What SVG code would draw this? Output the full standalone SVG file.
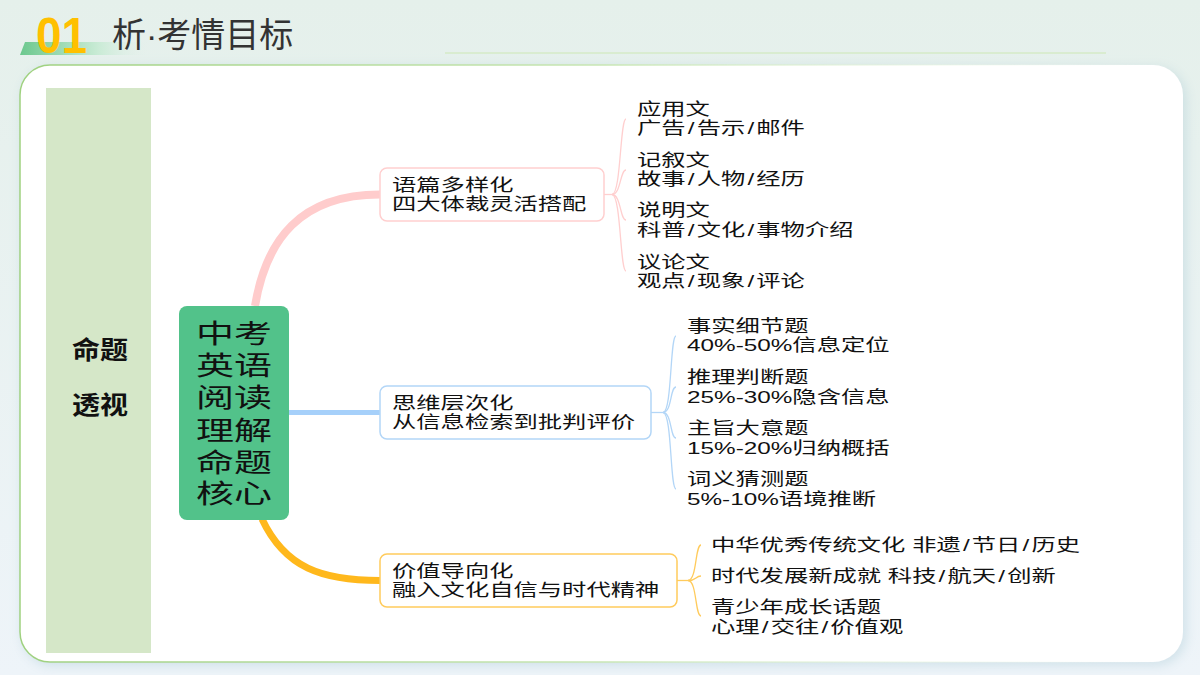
<svg xmlns="http://www.w3.org/2000/svg" width="1200" height="675" viewBox="0 0 1200 675">
<defs>
<linearGradient id="bg" x1="0" y1="0" x2="0" y2="1">
<stop offset="0" stop-color="#e5f0eb"/>
<stop offset="1" stop-color="#eef4f9"/>
</linearGradient>
<linearGradient id="cardStroke" x1="0" y1="0" x2="1" y2="0">
<stop offset="0" stop-color="#9fd17f"/>
<stop offset="0.5" stop-color="#c8e6b4"/>
<stop offset="1" stop-color="#ffffff" stop-opacity="0"/>
</linearGradient>
<linearGradient id="band" x1="0" y1="0" x2="1" y2="0">
<stop offset="0" stop-color="#6cc88e"/>
<stop offset="0.6" stop-color="#c9ebd5"/>
<stop offset="1" stop-color="#e5f0eb" stop-opacity="0"/>
</linearGradient>
<filter id="shadow" x="-5%" y="-5%" width="110%" height="115%">
<feDropShadow dx="3" dy="3" stdDeviation="6" flood-color="#a9cad6" flood-opacity="0.45"/>
</filter>
</defs>
<style>
text{font-family:"Liberation Sans","Noto Sans CJK SC",sans-serif;fill:#111}
.t text{font-size:17px}
.box{fill:#fff;stroke-width:1.5}
.brace{fill:none;stroke-width:1.3}
.pink{stroke:#ffcfcf}
.blue{stroke:#b3d6f7}
.gold{stroke:#ffcb5c}
</style>

<rect x="0" y="0" width="1200" height="675" fill="url(#bg)"/>

<g id="title">
<polygon points="25,42 150,42 146,55 20,55" fill="url(#band)"/>
<text transform="translate(36,53) scale(0.92,1)" font-size="50" font-weight="bold" style="fill:#ffc000">01</text>
<text x="112" y="47" font-size="34" style="fill:#333">析·考情目标</text>
<line x1="445" y1="53" x2="1106" y2="53" stroke="#d9ecd0" stroke-width="2"/>
</g>

<rect id="card" x="20" y="65" width="1163" height="597" rx="30" fill="#fff" stroke="url(#cardStroke)" stroke-width="1.5" filter="url(#shadow)"/>

<g id="side-panel">
<rect x="46" y="88" width="105" height="565" fill="#d5e7c8"/>
<g transform="translate(100,0) scale(1.12,1)" text-anchor="middle" font-size="25" font-weight="bold">
<text y="359.5">命题</text>
<text y="414.5">透视</text>
</g>
</g>

<g id="connectors">
<path d="M380,194.5 C300,194.5 266,240 255,306" fill="none" stroke="#ffcccc" stroke-width="8"/>
<line x1="289" y1="412.5" x2="380" y2="412.5" stroke="#a6d0fa" stroke-width="5"/>
<path d="M262,519 C285,568 322,580.5 380,580.5" fill="none" stroke="#ffb81c" stroke-width="7"/>
<g class="brace pink">
<path d="M604,194.5 H612"/>
<path d="M612,194.5 C621,194.5 620,119 626,119"/>
<path d="M612,194.5 C621,194.5 620,170 626,170"/>
<path d="M612,194.5 C621,194.5 620,220 626,220"/>
<path d="M612,194.5 C621,194.5 620,271 626,271"/>
</g>
<g class="brace blue">
<path d="M651,412.5 H663"/>
<path d="M663,412.5 C672,412.5 670,336 676,336"/>
<path d="M663,412.5 C672,412.5 670,387 676,387"/>
<path d="M663,412.5 C672,412.5 670,438 676,438"/>
<path d="M663,412.5 C672,412.5 670,489 676,489"/>
</g>
<g class="brace gold">
<path d="M677,580.5 H688"/>
<path d="M688,580.5 C697,580.5 695,545 701,545"/>
<path d="M688,580.5 C697,580.5 695,576 701,576"/>
<path d="M688,580.5 C697,580.5 695,616 701,616"/>
</g>
</g>

<g id="center-node">
<rect x="179" y="306" width="110" height="214" rx="8" fill="#52c28a"/>
<text transform="translate(234,0) scale(1.46,1)" text-anchor="middle" font-size="26"><tspan x="0" y="343">中考</tspan><tspan x="0" y="375">英语</tspan><tspan x="0" y="407">阅读</tspan><tspan x="0" y="440">理解</tspan><tspan x="0" y="472">命题</tspan><tspan x="0" y="503">核心</tspan></text>
</g>

<g id="branch-text" class="t">
<rect class="box pink" x="380" y="168" width="224" height="53" rx="7"/>
<text transform="translate(392,0) scale(1.43,1)"><tspan x="0" y="191">语篇多样化</tspan><tspan x="0" y="210.5">四大体裁灵活搭配</tspan></text>
</g>

<g id="branch-thinking" class="t">
<rect class="box blue" x="380" y="386" width="271" height="53" rx="7"/>
<text transform="translate(392,0) scale(1.43,1)"><tspan x="0" y="409">思维层次化</tspan><tspan x="0" y="428.5">从信息检索到批判评价</tspan></text>
</g>

<g id="branch-value" class="t">
<rect class="box gold" x="380" y="554" width="297" height="53" rx="7"/>
<text transform="translate(392,0) scale(1.43,1)"><tspan x="0" y="577">价值导向化</tspan><tspan x="0" y="596.5">融入文化自信与时代精神</tspan></text>
</g>

<g id="genre-items" class="t" transform="translate(637,0) scale(1.43,1)">
<text><tspan x="0" y="115.5">应用文</tspan><tspan x="0" y="134.5">广告<tspan dx="1.5">/</tspan><tspan dx="1.5">告示</tspan><tspan dx="1.5">/</tspan><tspan dx="1.5">邮件</tspan></tspan></text>
<text><tspan x="0" y="166.5">记叙文</tspan><tspan x="0" y="185.5">故事<tspan dx="1.5">/</tspan><tspan dx="1.5">人物</tspan><tspan dx="1.5">/</tspan><tspan dx="1.5">经历</tspan></tspan></text>
<text><tspan x="0" y="216.5">说明文</tspan><tspan x="0" y="236.5">科普<tspan dx="1.5">/</tspan><tspan dx="1.5">文化</tspan><tspan dx="1.5">/</tspan><tspan dx="1.5">事物介绍</tspan></tspan></text>
<text><tspan x="0" y="268">议论文</tspan><tspan x="0" y="287">观点<tspan dx="1.5">/</tspan><tspan dx="1.5">现象</tspan><tspan dx="1.5">/</tspan><tspan dx="1.5">评论</tspan></tspan></text>
</g>

<g id="question-items" class="t" transform="translate(687,0) scale(1.43,1)">
<text><tspan x="0" y="332">事实细节题</tspan><tspan x="0" y="351.5">40%-50%信息定位</tspan></text>
<text><tspan x="0" y="383.5">推理判断题</tspan><tspan x="0" y="403">25%-30%隐含信息</tspan></text>
<text><tspan x="0" y="434.5">主旨大意题</tspan><tspan x="0" y="454">15%-20%归纳概括</tspan></text>
<text><tspan x="0" y="485.5">词义猜测题</tspan><tspan x="0" y="505">5%-10%语境推断</tspan></text>
</g>

<g id="value-items" class="t" transform="translate(711,0) scale(1.43,1)">
<text y="551.5">中华优秀传统文化 非遗<tspan dx="1.5">/</tspan><tspan dx="1.5">节日</tspan><tspan dx="1.5">/</tspan><tspan dx="1.5">历史</tspan></text>
<text y="582.5">时代发展新成就 科技<tspan dx="1.5">/</tspan><tspan dx="1.5">航天</tspan><tspan dx="1.5">/</tspan><tspan dx="1.5">创新</tspan></text>
<text><tspan x="0" y="613.5">青少年成长话题</tspan><tspan x="0" y="633.5">心理<tspan dx="1.5">/</tspan><tspan dx="1.5">交往</tspan><tspan dx="1.5">/</tspan><tspan dx="1.5">价值观</tspan></tspan></text>
</g>
</svg>
